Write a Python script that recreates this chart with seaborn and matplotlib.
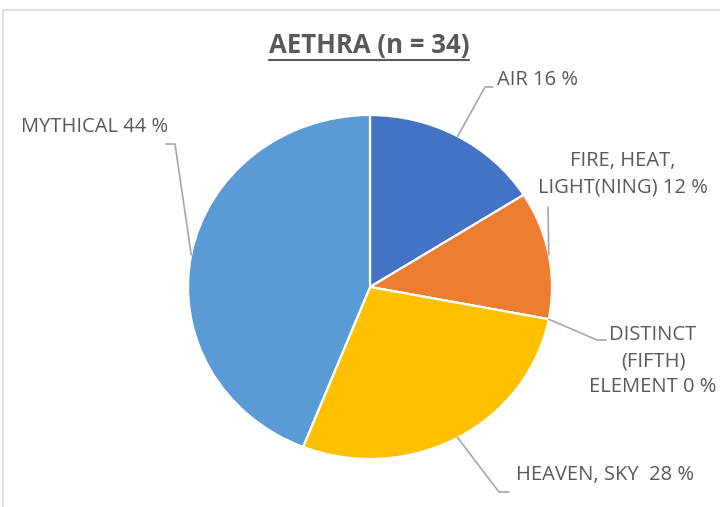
import numpy as np
import matplotlib
matplotlib.use("Agg")
import matplotlib.pyplot as plt
import seaborn as sns
from matplotlib.lines import Line2D

categories = ["AIR", "FIRE, HEAT,\nLIGHT(NING)", "DISTINCT\n(FIFTH)\nELEMENT", "HEAVEN, SKY ", "MYTHICAL"]
shares = [16, 12, 0, 28, 44]
colors = ["#4472C4", "#ED7D31", "#A5A5A5", "#FFC000", "#5B9BD5"]
title = "AETHRA (n = 34)"

sns.set_theme(style="white")
plt.rcParams["font.family"] = ["Open Sans", "DejaVu Sans"]
txt_col = "#595959"

W, H = 720, 507
fig = plt.figure(figsize=(W / 100, H / 100), dpi=100)

def fx(x):
    return x / W

def fy(y):
    return 1 - y / H

# pie is slightly stretched horizontally, like the Excel original
cx, cy, rx, ry = 370, 287, 182, 172
pad = 1.02
ax = fig.add_axes([fx(cx - rx * pad), fy(cy + ry * pad), 2 * rx * pad / W, 2 * ry * pad / H])
wedges, _ = ax.pie(shares, colors=sns.color_palette(colors), startangle=90, counterclock=False,
                   wedgeprops=dict(edgecolor="white", linewidth=1.6))
ax.set_aspect("auto")
ax.set_xlim(-pad, pad)
ax.set_ylim(-pad, pad)
ax.axis("off")

# chart frame
fig.add_artist(Line2D([fx(3), fx(3), fx(W)], [fy(H), fy(10), fy(10)], transform=fig.transFigure,
                      color="#D9D9D9", lw=1.2))

# labels: (anchor x, anchor y, ha, leader bend points in px)
label_pos = [
    (497, 80, "left", [(485, 87), (493, 87)]),
    (623, 174, "center", [(548, 207)]),
    (653, 361, "center", [(597, 340), (606, 340)]),
    (516, 475, "left", [(499, 492), (509, 492)]),
    (168, 127, "right", [(175, 144), (166, 144)]),
]

fig.canvas.draw()
for w, cat, val, (lx, ly, ha, bends) in zip(wedges, categories, shares, label_pos):
    mid = np.deg2rad((w.theta1 + w.theta2) / 2)
    sx, sy = ax.transData.transform((np.cos(mid), np.sin(mid)))
    xs = [sx / W] + [fx(b[0]) for b in bends]
    ys = [sy / H] + [fy(b[1]) for b in bends]
    fig.add_artist(Line2D(xs, ys, transform=fig.transFigure, color="#A6A6A6", lw=1.2))
    fig.text(fx(lx), fy(ly), f"{cat} {val} %", ha=ha, va="center", ma="center",
             fontsize=14.5, color=txt_col, linespacing=1.42)

t = fig.text(fx(369), fy(45), title, ha="center", va="center", fontsize=18.5,
             fontweight="bold", color=txt_col)
fig.canvas.draw()
bb = t.get_window_extent()
fig.add_artist(Line2D([bb.x0 / W, bb.x1 / W], [(bb.y0 - 1) / H] * 2, transform=fig.transFigure,
                      color=txt_col, lw=1.5))

fig.savefig("out.png", dpi=100)
